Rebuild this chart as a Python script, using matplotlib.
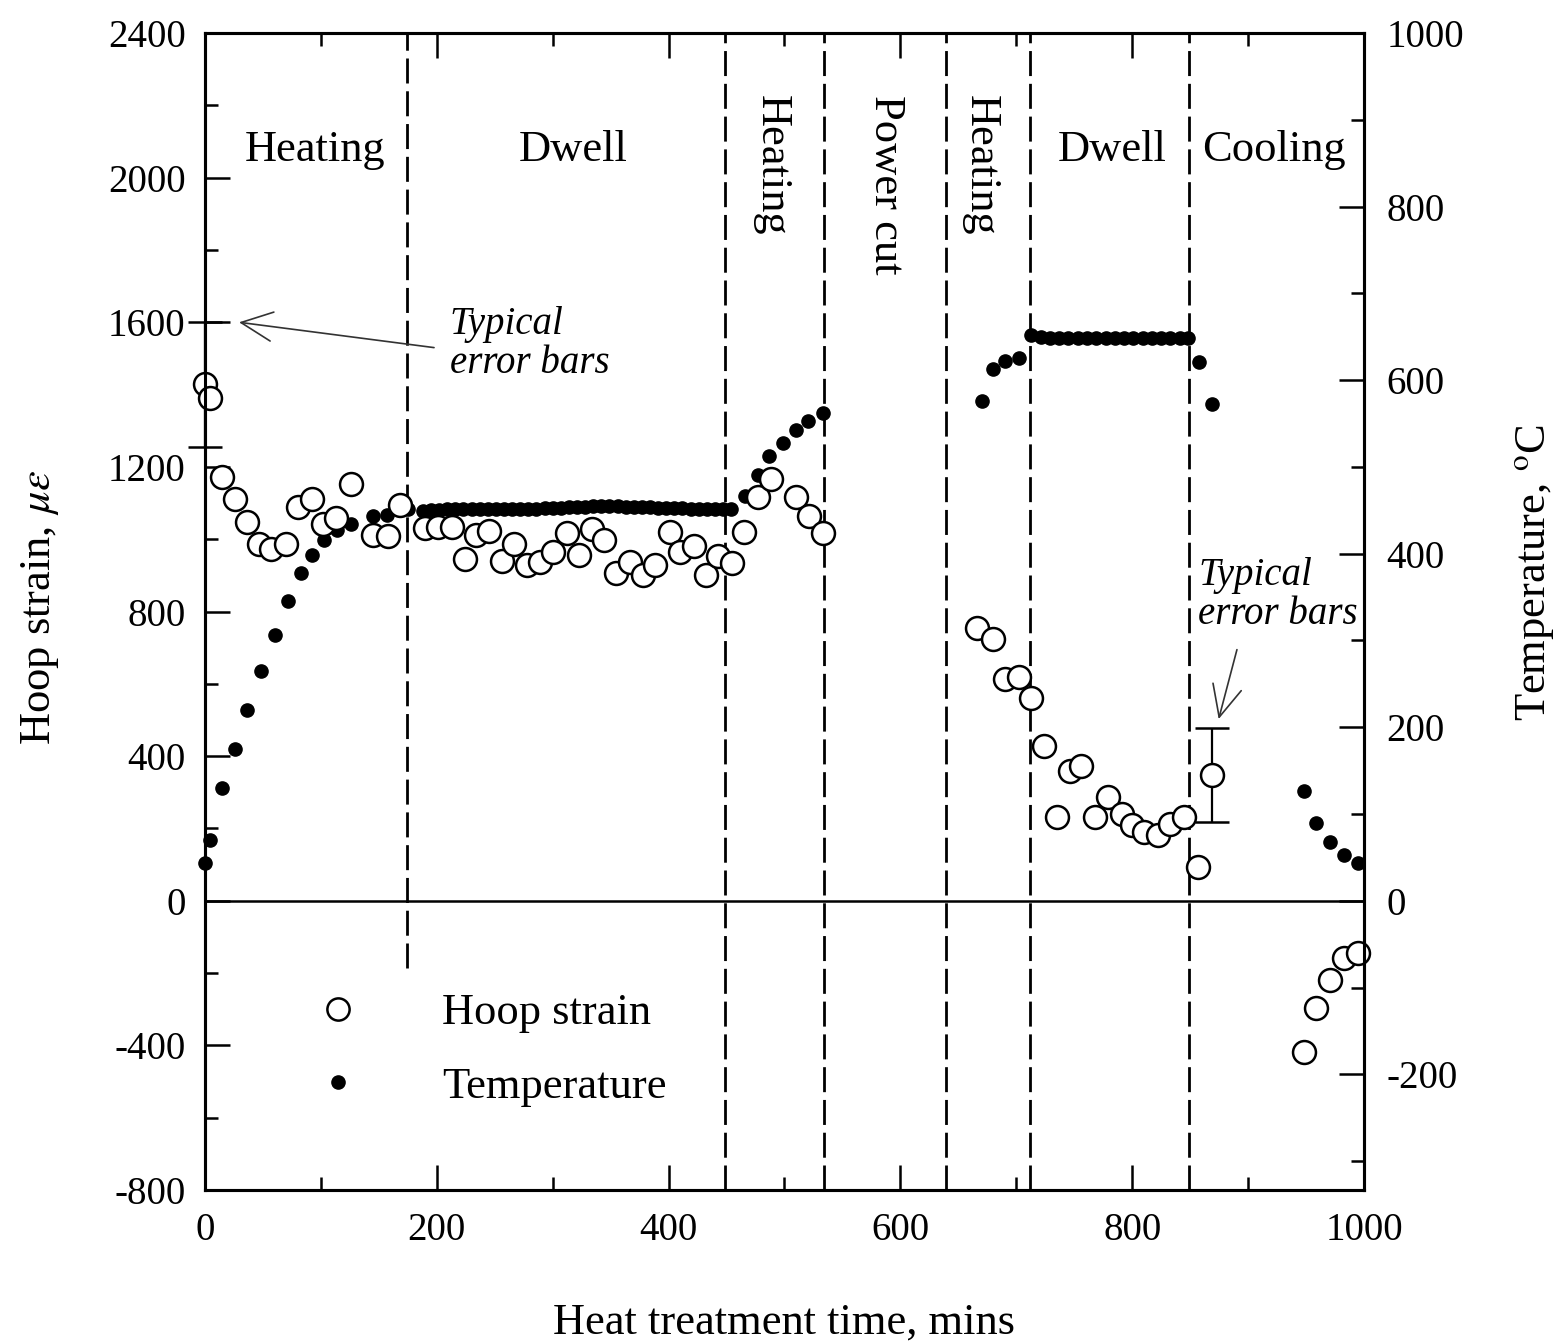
import numpy as np
import matplotlib
matplotlib.use('Agg')
import matplotlib.pyplot as plt
from matplotlib.ticker import MultipleLocator
from matplotlib.lines import Line2D

plt.rcParams['font.family'] = ['Liberation Serif', 'DejaVu Serif']
plt.rcParams['mathtext.fontset'] = 'stix'

# hoop strain (micro-strain) against time (mins)
strain_t = [0, 4, 15, 26, 36, 47, 57, 70, 80, 92, 102, 113, 126, 145, 158, 168,
            190, 201, 213, 224, 234, 245, 256, 267, 278, 289, 300, 312, 323, 334,
            344, 355, 367, 378, 388, 401, 410, 422, 432, 443, 455,
            465, 477, 488, 510, 521, 533,
            666, 680, 690, 702, 713, 724, 735, 746, 756, 768, 779, 791, 800, 810,
            822, 833, 845, 857, 869,
            948, 959, 971, 983, 995]
strain_v = [1430, 1390, 1173, 1111, 1048, 986, 972, 986, 1089, 1111, 1043, 1059, 1153, 1012, 1009, 1096,
            1031, 1033, 1033, 945, 1012, 1024, 941, 987, 929, 938, 966, 1018, 957, 1028,
            998, 906, 938, 902, 929, 1021, 966, 982, 902, 954, 935,
            1019, 1118, 1167, 1118, 1063, 1017,
            754, 725, 612, 620, 561, 429, 233, 358, 373, 233, 288, 239, 210, 189,
            183, 212, 233, 92, 348,
            -417, -297, -218, -159, -145]

# points carrying the "typical error bars"
err_t = [0, 869]
err_v = [1428, 348]
err_e = [172, 130]

# furnace temperature (C)
temp_t = [0, 4, 15, 26, 36, 48, 60, 72, 83, 92, 103, 114, 126, 145, 157, 168, 175,
          188, 195, 202, 209, 216, 223, 230, 237, 244, 251, 258, 265, 272, 279, 286,
          293, 300, 307, 314, 321, 328, 335, 342, 349, 356, 363, 370, 377, 384, 391,
          398, 405, 412, 419, 426, 433, 440, 447, 454,
          466, 477, 487, 499, 510, 520, 533,
          670, 680, 690, 702,
          713, 721, 729, 737, 745, 753, 761, 769, 777, 785, 793, 801, 809, 817, 825,
          833, 841, 848,
          858, 869,
          948, 959, 971, 983, 995]
temp_v = [44, 70, 130, 175, 220, 265, 306, 346, 378, 399, 416, 427, 434, 443, 445, 450, 452,
          449, 450, 450, 451, 451, 451, 452, 452, 452, 452, 452, 452, 452, 452, 452,
          453, 453, 453, 454, 454, 454, 455, 455, 455, 455, 454, 454, 454, 454, 453,
          453, 453, 453, 452, 452, 452, 451, 451, 451,
          466, 491, 513, 528, 543, 553, 562,
          576, 613, 622, 626,
          652, 650, 648, 649, 649, 649, 649, 649, 649, 649, 649, 649, 649, 649, 649,
          649, 649, 649,
          621, 573,
          126, 90, 68, 53, 43]

phase_edges = [174, 449, 534, 639, 712, 849]
phase_bottom = [-185, -800, -800, -800, -800, -800]

fig = plt.figure(figsize=(15.66, 13.44), dpi=100)
ax = fig.add_axes([0.1309, 0.1146, 0.7401, 0.8608])
ax2 = ax.twinx()

ax.set_xlim(0, 1000)
ax.set_ylim(-800, 2400)
ax2.set_ylim(-800 / 2.4, 1000)

# temperature dots on the right axis
ax2.plot(temp_t, temp_v, 'o', color='k', ms=9.5, mec='k', clip_on=False)

ax.set_zorder(ax2.get_zorder() + 1)
ax.patch.set_visible(False)

for xe, yb in zip(phase_edges, phase_bottom):
    ax.vlines(xe, yb, 2400, colors='k', linestyles=(0, (9, 2.8)), lw=2.0)
ax.axhline(0, color='k', lw=1.8)

ax.errorbar(err_t, err_v, yerr=err_e, fmt='none', ecolor='k', elinewidth=1.6,
            capsize=12, capthick=1.8, clip_on=False)
ax.plot(strain_t, strain_v, 'o', ms=16.5, mfc='white', mec='k', mew=1.8, clip_on=False)

# phase labels
fs = 32
ax.text(95, 2077, 'Heating', ha='center', va='center', fontsize=fs)
ax.text(318, 2077, 'Dwell', ha='center', va='center', fontsize=fs)
ax.text(489, 2229, 'Heating', ha='center', va='top', rotation=270, fontsize=fs)
ax.text(588, 2229, 'Power cut', ha='center', va='top', rotation=270, fontsize=fs)
ax.text(669, 2229, 'Heating', ha='center', va='top', rotation=270, fontsize=fs)
ax.text(783, 2077, 'Dwell', ha='center', va='center', fontsize=fs)
ax.text(922, 2077, 'Cooling', ha='center', va='center', fontsize=fs)

# annotations
ax.text(211, 1540, 'Typical\nerror bars', ha='left', va='center', fontsize=28,
        style='italic', linespacing=1.05)
ax.annotate('', xy=(27, 1601), xytext=(200, 1529),
            arrowprops=dict(arrowstyle='->,head_length=0.75,head_width=0.35',
                            lw=1.2, color='#333333', mutation_scale=30))
ax.text(857, 846, 'Typical\nerror bars', ha='left', va='center', fontsize=28,
        style='italic', linespacing=1.05)
ax.annotate('', xy=(874, 495), xytext=(891, 702),
            arrowprops=dict(arrowstyle='->,head_length=0.75,head_width=0.35',
                            lw=1.2, color='#333333', mutation_scale=30))

# ticks
ax.xaxis.set_major_locator(MultipleLocator(200))
ax.xaxis.set_minor_locator(MultipleLocator(100))
ax.yaxis.set_major_locator(MultipleLocator(400))
ax.yaxis.set_minor_locator(MultipleLocator(200))
ax2.yaxis.set_major_locator(MultipleLocator(200))
ax2.yaxis.set_minor_locator(MultipleLocator(100))

ax.tick_params(which='both', direction='in', top=True, bottom=True, left=True,
               right=False, width=1.8)
ax.tick_params(which='major', length=18, labelsize=28)
ax.tick_params(which='minor', length=9.5)
ax.tick_params(axis='y', pad=14)
ax.tick_params(axis='x', pad=16)
ax2.tick_params(which='both', direction='in', width=1.8)
ax2.tick_params(which='major', length=18, labelsize=28, pad=16)
ax2.tick_params(which='minor', length=9.5)
ax.set_yticks([2400, 2000, 1600, 1200, 800, 400, 0, -400, -800])
ax.set_yticklabels(['2400', '2000', '1600', '1200', '800', '400', '0', '-400', '-800'])
ax2.set_yticks([1000, 800, 600, 400, 200, 0, -200])
ax2.set_yticklabels(['1000', '800', '600', '400', '200', '0', '-200'])

for sp in ax.spines.values():
    sp.set_linewidth(2.2)
for sp in ax2.spines.values():
    sp.set_linewidth(2.2)

ax.set_xlabel('Heat treatment time, mins', fontsize=32)
ax.xaxis.set_label_coords(0.5, -0.097)
ax.set_ylabel(r'Hoop strain, $\mu\varepsilon$', fontsize=32)
ax.yaxis.set_label_coords(-0.142, 0.504)
ax.yaxis.label.set_va('center')
ax2.set_ylabel(r'Temperature, $^{\rm o}$C', fontsize=32)
ax2.yaxis.set_label_coords(1.1475, 0.534)
ax2.yaxis.label.set_va('center')

handles = [Line2D([], [], ls='none', marker='o', ms=16, mfc='white', mec='k', mew=1.8),
           Line2D([], [], ls='none', marker='o', ms=9.5, color='k')]
ax.legend(handles, ['Hoop strain', 'Temperature'], loc='upper left',
          bbox_to_anchor=(0.076, 0.17), frameon=False, fontsize=32,
          handlelength=2.0, handletextpad=1.35, labelspacing=0.75, borderpad=0,
          borderaxespad=0)

fig.savefig('out.png', dpi=100)
